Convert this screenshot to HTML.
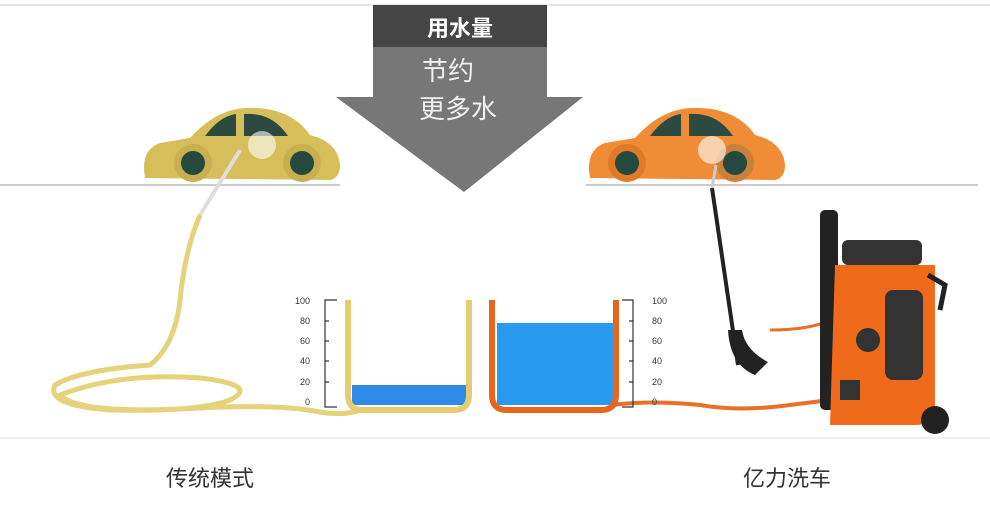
<!DOCTYPE html>
<html><head><meta charset="utf-8"><style>
html,body{margin:0;padding:0;background:#fff;width:990px;height:511px;overflow:hidden}
svg{display:block}
text{font-family:"Liberation Sans","Noto Sans CJK SC",sans-serif}
</style></head><body>
<svg width="990" height="511" viewBox="0 0 990 511">
<line x1="0" y1="5" x2="990" y2="5" stroke="#e6e6e6" stroke-width="2"/>
<line x1="0" y1="438" x2="990" y2="438" stroke="#eeeeee" stroke-width="2"/>
<!-- ground lines -->
<line x1="0" y1="185" x2="340" y2="185" stroke="#999" stroke-width="1"/>
<line x1="586" y1="185" x2="978" y2="185" stroke="#999" stroke-width="1"/>
<!-- arrow -->
<rect x="373" y="5" width="174" height="42" fill="#454545"/>
<path d="M373 47H547V97H583L464 192L336 97H373Z" fill="#777"/>
<text x="460" y="36" font-size="22" font-weight="bold" fill="#fff" text-anchor="middle">用水量</text>
<text x="448" y="80" font-size="26" fill="#f0f0f0" text-anchor="middle">节约</text>
<text x="458" y="118" font-size="26" fill="#f0f0f0" text-anchor="middle">更多水</text>
<!-- left car -->
<g>
<path d="M145 178 Q140 150 160 143 L190 138 Q215 110 245 108 Q290 106 310 135 Q338 142 340 165 Q340 178 330 180 Z" fill="#d6bf5a"/>
<path d="M205 136 Q220 116 236 114 L236 136Z" fill="#2c4a40"/>
<path d="M244 114 Q272 112 288 136 L244 136Z" fill="#2c4a40"/>
<circle cx="193" cy="163" r="19" fill="#c8b050"/><circle cx="193" cy="163" r="12" fill="#244a40"/>
<circle cx="302" cy="163" r="19" fill="#c8b050"/><circle cx="302" cy="163" r="12" fill="#244a40"/>
<circle cx="262" cy="145" r="14" fill="#fff" opacity="0.6"/>
</g>
<!-- right car -->
<g>
<path d="M590 178 Q585 150 605 143 L635 138 Q660 110 690 108 Q735 106 755 135 Q783 142 785 165 Q785 178 775 180 Z" fill="#f08c35"/>
<path d="M650 136 Q665 116 681 114 L681 136Z" fill="#2c4a40"/>
<path d="M689 114 Q717 112 733 136 L689 136Z" fill="#2c4a40"/>
<circle cx="627" cy="163" r="19" fill="#e07a28"/><circle cx="627" cy="163" r="12" fill="#244a40"/>
<circle cx="735" cy="163" r="19" fill="#c9803a"/><circle cx="735" cy="163" r="12" fill="#244a40"/>
<circle cx="712" cy="150" r="14" fill="#fff" opacity="0.6"/>
</g>
<!-- yellow hose -->
<path d="M200 215 Q185 250 180 300 Q175 345 150 365 Q80 370 55 385 Q45 405 110 410 Q200 412 230 400 Q260 385 200 378 Q120 372 60 395 Q80 415 200 408 Q280 404 320 412 Q345 416 360 410" fill="none" stroke="#e6d27a" stroke-width="5"/>
<line x1="200" y1="215" x2="240" y2="150" stroke="#ddd" stroke-width="4"/>
<!-- orange hose -->
<path d="M612 405 Q650 400 700 405 Q740 412 790 405 L830 400" fill="none" stroke="#e8702a" stroke-width="4"/>
<path d="M770 330 Q810 330 830 320" fill="none" stroke="#e8702a" stroke-width="3"/>
<!-- lance -->
<line x1="712" y1="188" x2="738" y2="365" stroke="#222" stroke-width="4"/>
<line x1="712" y1="188" x2="716" y2="165" stroke="#ccc" stroke-width="3"/>
<path d="M728 330 Q730 365 755 375 L768 362 Q745 350 742 330Z" fill="#222"/>
<!-- machine -->
<rect x="820" y="210" width="18" height="200" rx="5" fill="#222"/>
<rect x="842" y="240" width="80" height="25" rx="6" fill="#333"/>
<path d="M835 265 H935 V405 Q935 425 915 425 H830 Z" fill="#f06a1c"/>
<rect x="885" y="290" width="38" height="90" rx="8" fill="#333"/>
<circle cx="868" cy="340" r="12" fill="#333"/>
<rect x="840" y="380" width="20" height="20" fill="#333"/>
<circle cx="935" cy="420" r="14" fill="#222"/>
<path d="M928 275 L945 285 L940 310" fill="none" stroke="#222" stroke-width="5"/>
<!-- buckets -->
<rect x="352" y="385" width="116" height="20" fill="#2f8ae8"/>
<path d="M348 300 V395 Q348 410 363 410 H454 Q469 410 469 395 V300" fill="none" stroke="#e6cc70" stroke-width="6"/>
<rect x="497" y="323" width="117" height="82" fill="#2a9af0"/>
<path d="M492 300 V395 Q492 410 507 410 H601 Q616 410 616 395 V300" fill="none" stroke="#e8651c" stroke-width="6"/>
<!-- scales -->
<g stroke="#333" fill="none" stroke-width="1.2">
<path d="M337 300 H325 V407 H337"/>
<path d="M622 300 H633 V407 H622"/>
<path d="M325 321h4M325 341h4M325 361h4M325 382h4"/>
<path d="M633 321h-4M633 341h-4M633 361h-4M633 382h-4"/>
</g>
<g font-size="9" fill="#333">
<text x="310" y="304" text-anchor="end">100</text><text x="310" y="324" text-anchor="end">80</text><text x="310" y="344" text-anchor="end">60</text><text x="310" y="364" text-anchor="end">40</text><text x="310" y="385" text-anchor="end">20</text><text x="310" y="405" text-anchor="end">0</text>
<text x="652" y="304">100</text><text x="652" y="324">80</text><text x="652" y="344">60</text><text x="652" y="364">40</text><text x="652" y="385">20</text><text x="652" y="405">0</text>
</g>
<text x="210" y="486" font-size="22" fill="#333" text-anchor="middle">传统模式</text>
<text x="787" y="486" font-size="22" fill="#333" text-anchor="middle">亿力洗车</text>
</svg>
</body></html>
